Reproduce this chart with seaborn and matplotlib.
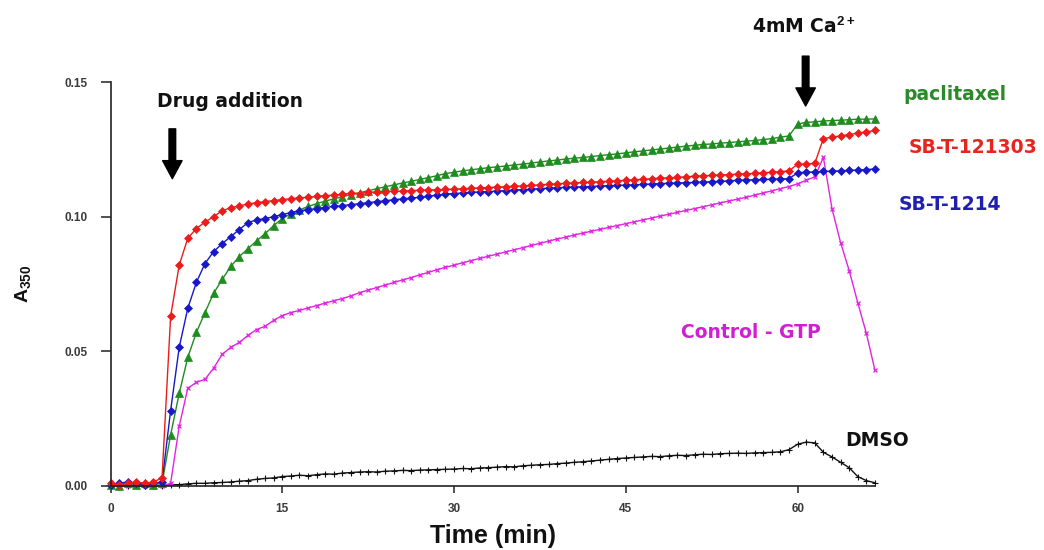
import numpy as np
import pandas as pd
import matplotlib
matplotlib.use("Agg")
import matplotlib.pyplot as plt
import seaborn as sns

# ---------------- data ----------------
time_min = np.arange(90) * 0.75  # sampling times, min

paclitaxel = [0.0005, 0.0, 0.001, 0.0005, 0.001, 0.0005, 0.001,
              0.019, 0.0344, 0.0478, 0.057, 0.0644, 0.0715, 0.0767, 0.0815,
              0.0852, 0.0881, 0.091, 0.0937, 0.0967, 0.0993, 0.1011, 0.1025, 0.1038, 0.1048, 0.1058, 0.1066, 0.1074, 0.1082, 0.1089,
              0.1096, 0.1104, 0.1111, 0.1118, 0.1125, 0.1131, 0.1138, 0.1145, 0.1152, 0.1160,
              0.1165, 0.1170, 0.1174, 0.1178, 0.1182, 0.1185, 0.1188, 0.1192, 0.1195, 0.1199,
              0.1203, 0.1207, 0.1210, 0.1214, 0.1217, 0.1220, 0.1223, 0.1227, 0.1230, 0.1233,
              0.1237, 0.1241, 0.1244, 0.1248, 0.1251, 0.1255, 0.1258, 0.1262, 0.1265, 0.1268,
              0.1270, 0.1273, 0.1275, 0.1278, 0.1280, 0.1283, 0.1286, 0.1290, 0.1295, 0.1300,
              0.1344, 0.1350, 0.1352, 0.1355, 0.1357, 0.1358, 0.1360, 0.1362, 0.1362, 0.1363]

sb_t_121303 = [0.001, 0.0005, 0.001, 0.0015, 0.001, 0.0015, 0.003,
               0.063, 0.082, 0.092, 0.0956, 0.098, 0.100, 0.1022, 0.1033,
               0.104, 0.1047, 0.1052, 0.1056, 0.106, 0.1063, 0.1067, 0.107, 0.1072, 0.1075, 0.1078, 0.108, 0.1083, 0.1087, 0.1086,
               0.1090, 0.1092, 0.1093, 0.1095, 0.1094, 0.1097, 0.1098, 0.1099, 0.1100, 0.1101,
               0.1102, 0.1104, 0.1105, 0.1107, 0.1108, 0.1110, 0.1111, 0.1113, 0.1114, 0.1116,
               0.1118, 0.1120, 0.1122, 0.1124, 0.1125, 0.1127, 0.1128, 0.1130, 0.1131, 0.1133,
               0.1135, 0.1137, 0.1139, 0.1141, 0.1143, 0.1144, 0.1146, 0.1148, 0.1150, 0.1152,
               0.1153, 0.1155, 0.1156, 0.1158, 0.1159, 0.1161, 0.1163, 0.1165, 0.1167, 0.1170,
               0.1195, 0.1195, 0.1198, 0.1290, 0.1295, 0.1300, 0.1305, 0.1310, 0.1315, 0.1320]

sb_t_1214 = [0.0005, 0.001, 0.0015, 0.001, 0.0005, 0.001, 0.0015,
             0.028, 0.0515, 0.066, 0.0756, 0.0826, 0.087, 0.090, 0.0926,
             0.0952, 0.0978, 0.0988, 0.0993, 0.100, 0.1008, 0.1015, 0.1022, 0.1026, 0.1030, 0.1034, 0.1038, 0.1041, 0.1045, 0.1048,
             0.1052, 0.1056, 0.1059, 0.1063, 0.1066, 0.1069, 0.1072, 0.1076, 0.1080, 0.1084,
             0.1086, 0.1088, 0.1090, 0.1092, 0.1093, 0.1095, 0.1097, 0.1099, 0.1100, 0.1102,
             0.1104, 0.1106, 0.1107, 0.1109, 0.1110, 0.1111, 0.1112, 0.1114, 0.1115, 0.1116,
             0.1117, 0.1118, 0.1120, 0.1121, 0.1123, 0.1124, 0.1125, 0.1126, 0.1127, 0.1128,
             0.1130, 0.1131, 0.1133, 0.1135, 0.1136, 0.1137, 0.1138, 0.1139, 0.1140, 0.1141,
             0.1163, 0.1165, 0.1166, 0.1168, 0.1169, 0.1170, 0.1172, 0.1173, 0.1175, 0.1177]

control_gtp = [0.0, 0.0005, 0.0, 0.0005, 0.0, 0.0005, 0.0,
               0.001, 0.0222, 0.0363, 0.0385, 0.0396, 0.0437, 0.0489, 0.0515,
               0.0533, 0.0559, 0.0581, 0.0593, 0.0615, 0.0633, 0.0644, 0.0652, 0.0661, 0.0670, 0.0679, 0.0688, 0.0696, 0.0706, 0.0718,
               0.0727, 0.0737, 0.0746, 0.0756, 0.0765, 0.0774, 0.0784, 0.0793, 0.0803, 0.0812,
               0.0820, 0.0829, 0.0837, 0.0845, 0.0853, 0.0861, 0.0869, 0.0877, 0.0885, 0.0893,
               0.0901, 0.0909, 0.0917, 0.0924, 0.0932, 0.0939, 0.0946, 0.0953, 0.0960, 0.0967,
               0.0974, 0.0981, 0.0988, 0.0995, 0.1002, 0.1009, 0.1016, 0.1023, 0.1030, 0.1037,
               0.1044, 0.1051, 0.1058, 0.1065, 0.1072, 0.1080, 0.1088, 0.1096, 0.1104, 0.1112,
               0.1122, 0.1135, 0.1148, 0.1220, 0.1030, 0.0904, 0.0800, 0.0681, 0.0567, 0.0430]

dmso = [0.0, 0.0, 0.0, 0.0, 0.0, 0.0, 0.0,
        0.0005, 0.0005, 0.0008, 0.001, 0.001, 0.0012, 0.0013, 0.0015,
        0.0018, 0.002, 0.0025, 0.0028, 0.003, 0.0035, 0.0037, 0.004, 0.0038, 0.0042, 0.0045, 0.0044, 0.0048, 0.005, 0.0052,
        0.0053, 0.0052, 0.0055, 0.0056, 0.0058, 0.0057, 0.0059, 0.006, 0.0061, 0.0062,
        0.0063, 0.0065, 0.0064, 0.0067, 0.0068, 0.007, 0.0072, 0.0071, 0.0075, 0.0077,
        0.0079, 0.008, 0.0083, 0.0085, 0.0088, 0.009, 0.0093, 0.0096, 0.0099, 0.0102,
        0.0104, 0.0106, 0.0108, 0.011, 0.0109, 0.0112, 0.0114, 0.0113, 0.0116, 0.0118,
        0.0117, 0.012, 0.0121, 0.0122, 0.0121, 0.0123, 0.0124, 0.0125, 0.0127, 0.0135,
        0.0155, 0.0163, 0.016, 0.0125, 0.0108, 0.0088, 0.0068, 0.0035, 0.002, 0.0012]

series_names = ["DMSO", "Control - GTP", "paclitaxel", "SB-T-1214", "SB-T-121303"]
series_values = [dmso, control_gtp, paclitaxel, sb_t_1214, sb_t_121303]

x_ticks = [0, 15, 30, 45, 60]
x_tick_labels = ["0", "15", "30", "45", "60"]
y_ticks = [0.00, 0.05, 0.10, 0.15]
y_tick_labels = ["0.00", "0.05", "0.10", "0.15"]

# ---------------- styling ----------------
colors = {"DMSO": "#111111", "Control - GTP": "#e024e0", "paclitaxel": "#1e8c1e",
          "SB-T-1214": "#1818c8", "SB-T-121303": "#ec1c1c"}
text_colors = {"DMSO": "#111111", "Control - GTP": "#d21ed2", "paclitaxel": "#2a8a2a",
               "SB-T-1214": "#2020b0", "SB-T-121303": "#e8241e"}
mstyle = {"DMSO": dict(marker="+", markersize=4, markeredgewidth=0.8),
          "Control - GTP": dict(marker="x", markersize=3.5, markeredgewidth=0.9),
          "paclitaxel": dict(marker="^", markersize=5.5, markeredgewidth=0.5),
          "SB-T-1214": dict(marker="D", markersize=4, markeredgewidth=0.5),
          "SB-T-121303": dict(marker="D", markersize=4, markeredgewidth=0.5)}

df = pd.concat([pd.DataFrame({"time": time_min, "A350": vals, "series": name})
                for name, vals in zip(series_names, series_values)], ignore_index=True)

sns.set_style("ticks")
plt.rcParams["mathtext.fontset"] = "custom"
plt.rcParams["mathtext.rm"] = "Liberation Sans"
plt.rcParams["mathtext.bf"] = "Liberation Sans:bold"

fig = plt.figure(figsize=(10.44, 5.5), dpi=100)
ax = fig.add_axes([110.5 / 1044, 1 - 486 / 550, 765 / 1044, 404 / 550])

for name in series_names:
    sub = df[df["series"] == name]
    sns.lineplot(data=sub, x="time", y="A350", ax=ax, color=colors[name],
                 linewidth=1.0, markeredgecolor=colors[name], clip_on=False,
                 legend=False, **mstyle[name])

ax.set_xlim(0, 66.8)
ax.set_ylim(0, 0.15)
ax.set_xticks(x_ticks)
ax.set_xticklabels(x_tick_labels)
ax.set_yticks(y_ticks)
ax.set_yticklabels(y_tick_labels)
for lab in ax.get_xticklabels() + ax.get_yticklabels():
    lab.set_fontfamily("Liberation Sans")
    lab.set_fontweight("bold")
    lab.set_fontsize(8.5)
    lab.set_color("#3a3a3a")
ax.tick_params(axis="y", length=7.2, width=1.1, pad=9, color="#222222")
ax.tick_params(axis="x", length=5, width=1.1, pad=7, color="#222222")
for s in ["top", "right"]:
    ax.spines[s].set_visible(False)
for s in ["left", "bottom"]:
    ax.spines[s].set_linewidth(1.2)
    ax.spines[s].set_color("#222222")

ax.set_xlabel("Time (min)", fontfamily="Liberation Sans", fontweight="bold",
              fontsize=18, color="#111111")
ax.xaxis.set_label_coords(0.5, -0.095)
ax.set_ylabel(r"A$_{\mathbf{350}}$", fontfamily="Liberation Sans", fontweight="bold",
              fontsize=14, color="#111111")
ax.yaxis.set_label_coords(-0.10, 0.5)

tkw = dict(fontfamily="DejaVu Sans", fontweight="bold", fontsize=13.5, clip_on=False)
ax.text(10.4, 0.1426, "Drug addition", ha="center", va="center", color="#111111", **tkw)
ax.text(56.0, 0.1707, r"4mM Ca$^{\mathbf{2+}}$", ha="left", va="center", color="#111111", **tkw)
label_pos = {"paclitaxel": (73.7, 0.1452), "SB-T-121303": (75.3, 0.1256),
             "SB-T-1214": (73.3, 0.1044), "Control - GTP": (55.9, 0.057),
             "DMSO": (66.9, 0.017)}
for name, (lx, ly) in label_pos.items():
    ax.text(lx, ly, name, ha="center", va="center", color=text_colors[name], **tkw)

arrow_kw = dict(facecolor="black", edgecolor="black", width=4.8, headwidth=14,
                headlength=13, shrink=0)
ax.annotate("", xy=(5.4, 0.1141), xytext=(5.4, 0.1326), arrowprops=arrow_kw,
            annotation_clip=False)
ax.annotate("", xy=(60.7, 0.1411), xytext=(60.7, 0.1596), arrowprops=arrow_kw,
            annotation_clip=False)

fig.savefig("out.png", dpi=100)
